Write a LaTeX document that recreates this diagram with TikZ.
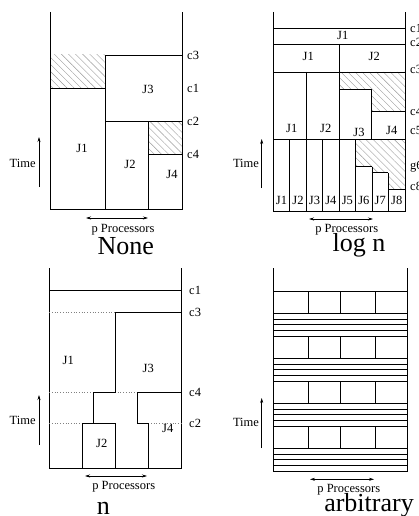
\documentclass[tikz,border=0pt]{standalone}
\usepackage{fontspec}
\setmainfont{Liberation Serif}
\usetikzlibrary{patterns.meta, arrows.meta}
\tikzset{
    wall/.style={draw, line width=0.8pt},
    hatch/.style={pattern={Lines[angle=-45, distance=5pt, line width=0.4pt]}, pattern color=gray!80},
    lab/.style={font=\fontsize{12.5}{14}\selectfont, inner sep=0pt},
    clab/.style={lab, anchor=west},
    ttl/.style={font=\fontsize{26}{28}\selectfont, inner sep=0pt},
    dots/.style={dotted, line width=0.7pt, gray},
    tarr/.style={-{Stealth[length=5pt, width=3pt]}, line width=0.6pt},
    parr/.style={{Stealth[length=5pt, width=3pt]}-{Stealth[length=5pt, width=3pt]}, line width=0.6pt}
}

\begin{document}
\begin{tikzpicture}[x=1pt, y=-1pt]
    \useasboundingbox (0,0) rectangle (418,516);

    % None
    \fill[hatch] (50,55) rectangle (105,88);
    \fill[hatch] (148,121) rectangle (182,154);
    \draw[wall] (50,12) -- (50,209) -- (182,209) -- (182,12);
    \draw[wall] (50,88) -- (105,88);
    \draw[wall] (105,209) -- (105,55) -- (182,55);
    \draw[wall] (105,121) -- (182,121);
    \draw[wall] (148,209) -- (148,121);
    \draw[wall] (148,154) -- (182,154);
    \node[lab] (a1) at (82,148) {J1};
    \node[lab] (a2) at (130,164) {J2};
    \node[lab] (a3) at (148,89) {J3};
    \node[lab] (a4) at (172,174) {J4};
    \node[clab] (ac3) at (187,55) {c3};
    \node[clab] (ac1) at (187,88) {c1};
    \node[clab] (ac2) at (187,121) {c2};
    \node[clab] (ac4) at (187,154) {c4};
    \node[lab] (at) at (22.7,163) {Time};
    \coordinate (at0) at (39,187);
    \coordinate (at1) at (39,137);
    \draw[tarr] (at0) -- (at1);
    \coordinate (ap0) at (86,218);
    \coordinate (ap1) at (148,218);
    \draw[parr] (ap0) -- (ap1);
    \node[lab] (ap) at (123,230) {p Processors};
    \node[ttl] (an) at (125.7,245.7) {None};

    % log n
    \fill[hatch] (339.3,72) -- (405,72) -- (405,111.7) -- (371.7,111.7) -- (371.7,89.3) -- (339.3,89.3) -- cycle;
    \fill[hatch] (355.6,139) -- (405,139) -- (405,189.3) -- (388.2,189.3) -- (388.2,172.7)
        -- (371.7,172.7) -- (371.7,166.7) -- (355.6,166.7) -- cycle;
    \draw[wall] (273.3,12) -- (273.3,211) -- (405,211) -- (405,12);
    \foreach \y in {28,44,72,139}
        \draw[wall] (273.3,\y) -- (405,\y);
    \draw[wall] (339.3,44) -- (339.3,139);
    \draw[wall] (306.3,72) -- (306.3,139);
    \draw[wall] (339.3,89.3) -- (371.7,89.3) -- (371.7,139);
    \draw[wall] (371.7,111.7) -- (405,111.7);
    \foreach \k/\top in {1/139,2/139,3/139,4/139,5/139,6/166.7,7/172.7}
        \draw[wall] (273.3+16.46*\k,\top) -- (273.3+16.46*\k,211);
    \draw[wall] (355.6,166.7) -- (371.7,166.7);
    \draw[wall] (371.7,172.7) -- (388.2,172.7);
    \draw[wall] (388.2,189.3) -- (405,189.3);
    \node[lab] (b0) at (342.7,35) {J1};
    \node[lab] (b1) at (308.3,56.7) {J1};
    \node[lab] (b2) at (374.3,56.7) {J2};
    \node[lab] (b3) at (291.7,128) {J1};
    \node[lab] (b4) at (325.7,128) {J2};
    \node[lab] (b5) at (359,132) {J3};
    \node[lab] (b6) at (391.7,130) {J4};
    \foreach \k in {1,...,8}
        \node[lab] (bj\k) at (273.3+16.46*\k-8.23,200) {J\k};
    \node[clab] (bc1) at (410,28.3) {c1};
    \node[clab] (bc2) at (410,42.7) {c2};
    \node[clab] (bc3) at (410,69) {c3};
    \node[clab] (bc4) at (410,111.7) {c4};
    \node[clab] (bc5) at (410,130) {c5};
    \node[clab] (bg6) at (410,166.7) {g6};
    \node[clab] (bc8) at (410,186.7) {c8};
    \node[lab] (bt) at (246,163) {Time};
    \coordinate (bt0) at (261.7,188);
    \coordinate (bt1) at (261.7,139);
    \draw[tarr] (bt0) -- (bt1);
    \coordinate (bp0) at (309,219);
    \coordinate (bp1) at (373,219);
    \draw[parr] (bp0) -- (bp1);
    \node[lab] (bp) at (346.7,230) {p Processors};
    \node[ttl] (bn) at (359,245.7) {log n};

    % n
    \draw[wall] (49.3,268) -- (49.3,468.3) -- (181.7,468.3) -- (181.7,268);
    \draw[wall] (49.3,290.7) -- (181.7,290.7);
    \draw[dots] (49.3,312.7) -- (115,312.7);
    \draw[dots] (49.3,392.7) -- (93.3,392.7);
    \draw[dots] (115,392.7) -- (137.7,392.7);
    \draw[dots] (49.3,423.3) -- (82.7,423.3);
    \draw[dots] (148.3,423.3) -- (181.7,423.3);
    \draw[wall] (181.7,312.7) -- (115,312.7) -- (115,392.7) -- (93.3,392.7) -- (93.3,423.3);
    \draw[wall] (82.7,468.3) -- (82.7,423.3) -- (115,423.3) -- (115,468.3);
    \draw[wall] (181.7,392.7) -- (137.7,392.7) -- (137.7,423.3) -- (148.3,423.3) -- (148.3,468.3);
    \node[lab] (c1) at (68.3,360) {J1};
    \node[lab] (c2) at (101.7,443.3) {J2};
    \node[lab] (c3) at (148.3,368.3) {J3};
    \node[lab] (c4) at (167.7,428.3) {J4};
    \node[clab] (cc1) at (189,290.7) {c1};
    \node[clab] (cc3) at (189,312.7) {c3};
    \node[clab] (cc4) at (189,392.7) {c4};
    \node[clab] (cc2) at (189,423.3) {c2};
    \node[lab] (ct) at (22.7,420) {Time};
    \coordinate (ct0) at (39,445);
    \coordinate (ct1) at (39,395);
    \draw[tarr] (ct0) -- (ct1);
    \coordinate (cp0) at (85,476);
    \coordinate (cp1) at (147,476);
    \draw[parr] (cp0) -- (cp1);
    \node[lab] (cp) at (123.7,486.7) {p Processors};
    \node[ttl] (cn) at (103.3,508.3) {n};

    % arbitrary
    \draw[wall] (273.3,268) -- (273.3,471) -- (407.7,471) -- (407.7,268);
    \foreach \b in {0,1,2,3} {
        \foreach \o in {0,22.3,28,33.6,39.3}
            \draw[wall] (273.3,291+45*\b+\o) -- (407.7,291+45*\b+\o);
        \foreach \x in {308.3,340.7,375.7}
            \draw[wall] (\x,291+45*\b) -- (\x,313.3+45*\b);
    }
    \node[lab] (dt) at (246,422.7) {Time};
    \coordinate (dt0) at (261.7,448);
    \coordinate (dt1) at (261.7,398);
    \draw[tarr] (dt0) -- (dt1);
    \coordinate (dp0) at (310,479.3);
    \coordinate (dp1) at (374,479.3);
    \draw[parr] (dp0) -- (dp1);
    \node[lab] (dp) at (348.8,490) {p Processors};
    \node[ttl] (dn) at (369,505) {arbitrary};
\end{tikzpicture}
\end{document}
